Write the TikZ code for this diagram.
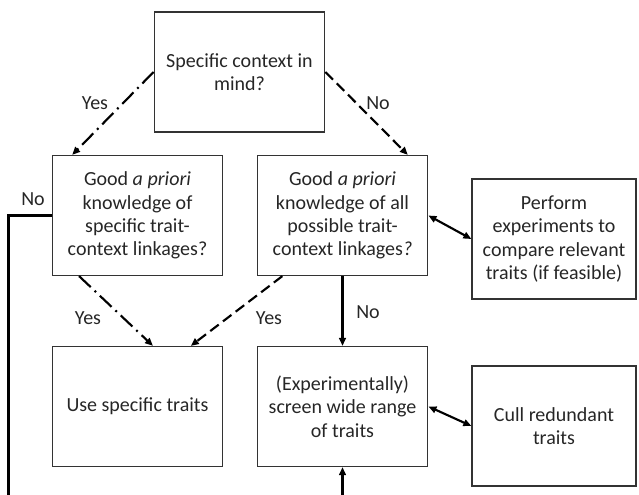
\documentclass[tikz,border=0pt]{standalone}
\usepackage{fontspec}
\setmainfont{Carlito}
\usetikzlibrary{positioning,arrows.meta,calc}

\begin{document}
\begin{tikzpicture}[
    x=0.75pt, y=-0.75pt,
    box/.style={draw=black!80, line width=0.9pt, minimum width=128pt, minimum height=90pt, align=center, font=\fontsize{15}{17.5}\selectfont, text=black!85},
    sidebox/.style={box, minimum width=123pt},
    arrow/.style={-{Triangle[length=6pt, width=5pt]}, line width=1.6pt},
    twoway/.style={{Triangle[length=6pt, width=5pt]}-{Triangle[length=6pt, width=5pt]}, line width=1.6pt},
    dashdot/.style={dash pattern=on 12pt off 4pt on 1.5pt off 4pt},
    label/.style={font=\fontsize{15}{17}\selectfont, text=black!85}
]
\clip (0,0) rectangle (639,494);

% Question boxes
\node[box] (context) at (239.5,72) {Specific context in\\mind?};
\node[box] (specific) at (137.5,215.5) {Good \textit{a priori}\\knowledge of\\specific trait-\\context linkages?};
\node[box] (possible) at (342.5,215.5) {Good \textit{a priori}\\knowledge of all\\possible trait-\\context linkages\textit{?}};

% Action boxes
\node[box] (use) at (137.5,406.5) {Use specific traits};
\node[box] (screen) at (342.5,406.5) {(Experimentally)\\screen wide range\\of traits};
\node[sidebox] (perform) at (554,239) {Perform\\experiments to\\compare relevant\\traits (if feasible)};
\node[sidebox] (cull) at (554,426) {Cull redundant\\traits};

% Loop back round the bottom
\coordinate (loopcorner) at (8.5,215.5);
\coordinate (loopbottom) at (8.5,520);
\coordinate (loopend) at (342.5,520);

% Labels
\node[label] (yes1) at (95,103) {Yes};
\node[label] (no1) at (378,103) {No};
\node[label] (no2) at (33,199) {No};
\node[label] (yes2) at (88,318) {Yes};
\node[label] (yes3) at (269,318) {Yes};
\node[label] (no3) at (368,312) {No};

% Arrows from the first question
\draw[arrow, dashdot] (context.west) -- ($(specific.north west)!0.12!(specific.north east)$);
\draw[arrow, dash pattern=on 8pt off 4pt] (context.east) -- ($(possible.north west)!0.88!(possible.north east)$);

% Arrows to the action boxes
\draw[arrow, dashdot] ($(specific.south west)!0.16!(specific.south east)$) -- ($(use.north west)!0.59!(use.north east)$);
\draw[arrow, dash pattern=on 8pt off 4pt] ($(possible.south west)!0.15!(possible.south east)$) -- ($(use.north west)!0.81!(use.north east)$);
\draw[arrow] (possible) -- (screen);
\draw[twoway] (possible.east) -- (perform.west);
\draw[twoway] (screen.east) -- (cull.west);
\draw[arrow, line width=2pt] (specific.west) -- (loopcorner) -- (loopbottom) -- (loopend) -- (screen.south);

\end{tikzpicture}
\end{document}
